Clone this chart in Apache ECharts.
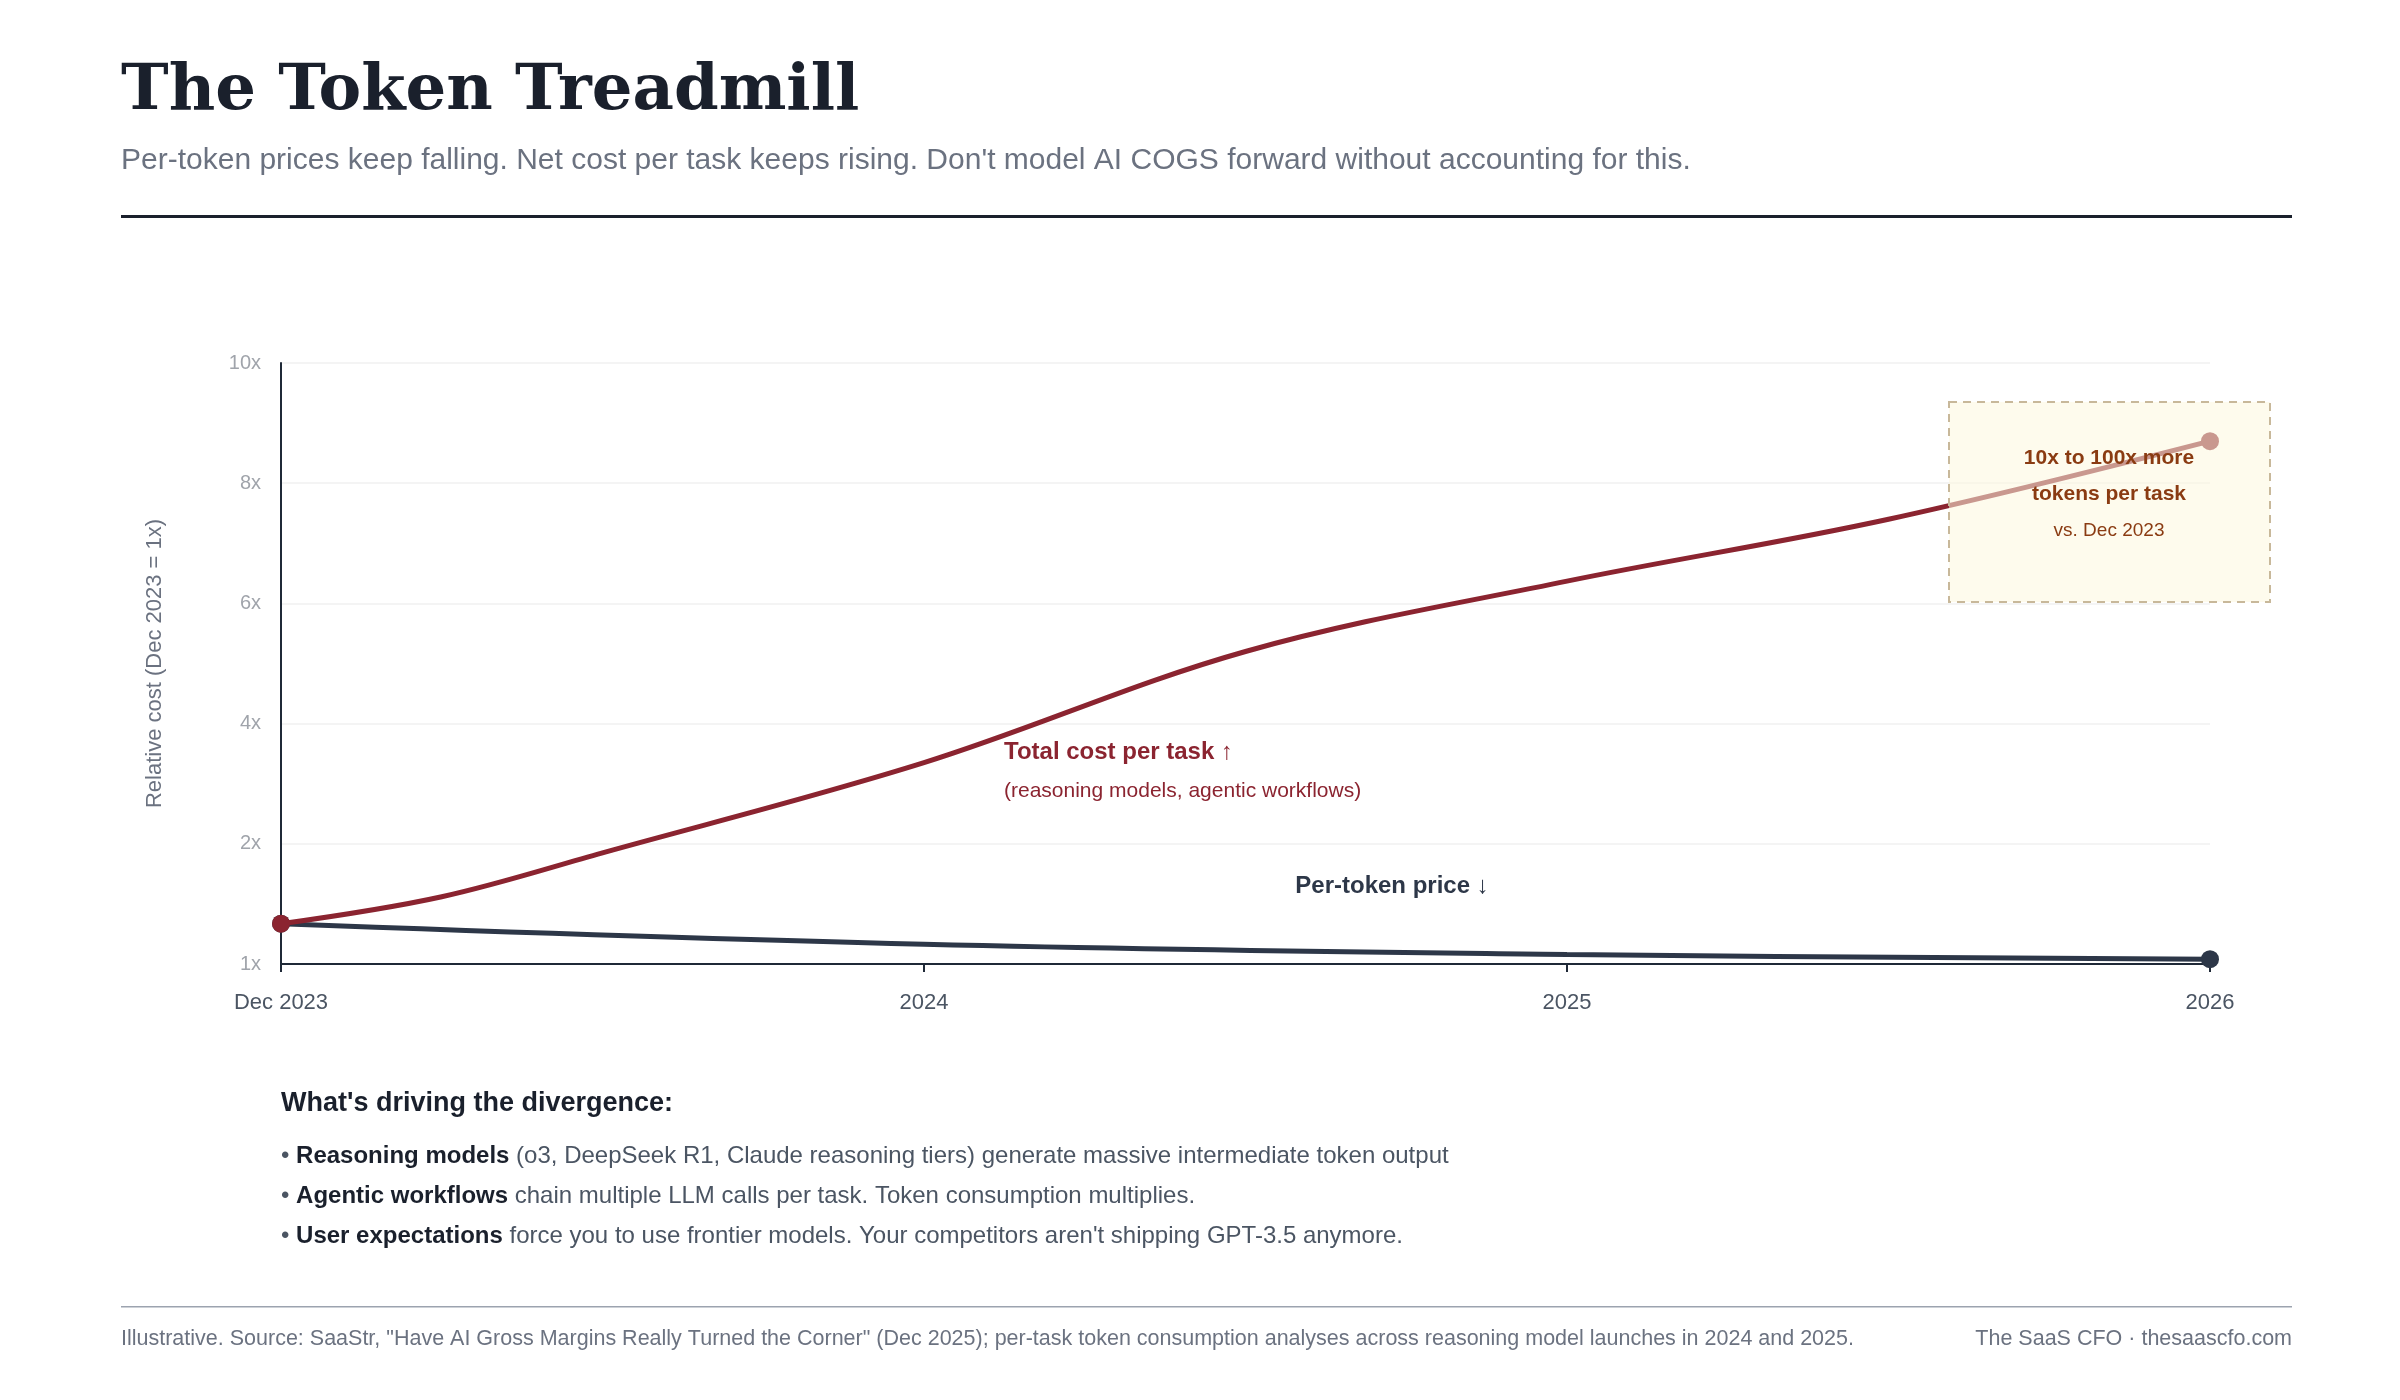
<!DOCTYPE html>
<html>
<head>
<meta charset="utf-8">
<script src="https://cdn.jsdelivr.net/npm/echarts@6/dist/echarts.min.js"></script>
<style>
  html, body { margin: 0; padding: 0; background: #fff; }
  #chart { width: 2400px; height: 1400px; }
</style>
</head>
<body>
<div id="chart"></div>
<script>
// x positions: 0 = Dec 2023, 1 = 2024, 2 = 2025, 3 = 2026
var xTickLabels = ['Dec 2023', '2024', '2025', '2026'];
var yTickLabels = {0: '1x', 2: '2x', 4: '4x', 6: '6x', 8: '8x', 10: '10x'};

var totalCostX = [0, 0.25, 0.5, 1.0, 1.5, 2.0, 2.5, 3.0];
var totalCostY = [0.67, 1.12, 1.85, 3.35, 5.2, 6.37, 7.4, 8.7];

var tokenPriceX = [0, 1.0, 2.0, 3.0];
var tokenPriceY = [0.67, 0.33, 0.16, 0.08];

var RED = '#8b2430';
var DARK = '#2d3748';
var FONT = '"Liberation Sans", Arial, sans-serif';

function pairs(xs, ys) {
  var out = [];
  for (var i = 0; i < xs.length; i++) out.push([xs[i], ys[i]]);
  return out;
}

function endSymbols(n) {
  return function (v, p) { return (p.dataIndex === 0 || p.dataIndex === n - 1) ? 18 : 0; };
}

var chart = echarts.init(document.getElementById('chart'));

var option = {
  backgroundColor: '#fff',
  textStyle: { fontFamily: FONT },
  grid: { left: 281, right: 190, top: 363, bottom: 436 },
  xAxis: {
    type: 'value', min: 0, max: 3, interval: 1,
    axisLine: { show: true, onZero: false, lineStyle: { color: '#1f2937', width: 2 } },
    axisTick: { show: true, length: 8, lineStyle: { color: '#1f2937', width: 2 } },
    splitLine: { show: false },
    axisLabel: {
      color: '#4b5563', fontSize: 22, margin: 28, fontFamily: FONT,
      formatter: function (v) { return xTickLabels[v]; }
    }
  },
  yAxis: {
    type: 'value', min: 0, max: 10, interval: 2,
    name: 'Relative cost (Dec 2023 = 1x)',
    nameLocation: 'middle', nameGap: 115, nameRotate: 90,
    nameTextStyle: { color: '#6b7280', fontSize: 22, fontFamily: FONT },
    axisLine: { show: true, lineStyle: { color: '#1f2937', width: 2 } },
    axisTick: { show: false },
    splitLine: { lineStyle: { color: '#f1f1f1', width: 1.5 } },
    axisLabel: {
      color: '#a0a4ab', fontSize: 20, margin: 20, fontFamily: FONT,
      formatter: function (v) { return yTickLabels[v]; }
    }
  },
  series: [
    {
      name: 'Per-token price', type: 'line', smooth: 0.4,
      data: pairs(tokenPriceX, tokenPriceY),
      lineStyle: { color: DARK, width: 5 },
      itemStyle: { color: DARK },
      symbol: 'circle', symbolSize: endSymbols(tokenPriceX.length),
      z: 2
    },
    {
      name: 'Total cost per task', type: 'line', smooth: 0.35,
      data: pairs(totalCostX, totalCostY),
      lineStyle: { color: RED, width: 5 },
      itemStyle: { color: RED },
      symbol: 'circle', symbolSize: endSymbols(totalCostX.length),
      z: 3
    }
  ],
  graphic: [
    { type: 'text', left: 121, top: 60, style: { text: 'The Token Treadmill', fill: '#1a202c', font: 'bold 64px "DejaVu Serif", serif' } },
    { type: 'text', left: 121, top: 146, style: { text: "Per-token prices keep falling. Net cost per task keeps rising. Don't model AI COGS forward without accounting for this.", fill: '#6b7280', font: '30px ' + FONT } },
    { type: 'rect', shape: { x: 121, y: 215, width: 2171, height: 3 }, style: { fill: '#1a202c' } },

    { type: 'rect', z: 100, shape: { x: 1949, y: 402, width: 321, height: 200 },
      style: { fill: 'rgba(254,247,222,0.55)', stroke: '#c8b89a', lineWidth: 2, lineDash: [8, 6] } },
    { type: 'text', z: 101, x: 2109, y: 458, style: { text: '10x to 100x more', fill: '#8a3b12', font: 'bold 21px ' + FONT, align: 'center', verticalAlign: 'middle' } },
    { type: 'text', z: 101, x: 2109, y: 494, style: { text: 'tokens per task', fill: '#8a3b12', font: 'bold 21px ' + FONT, align: 'center', verticalAlign: 'middle' } },
    { type: 'text', z: 101, x: 2109, y: 531, style: { text: 'vs. Dec 2023', fill: '#8a3b12', font: '19px ' + FONT, align: 'center', verticalAlign: 'middle' } },

    { type: 'text', z: 50, left: 1004, top: 740, style: { text: 'Total cost per task \u2191', fill: RED, font: 'bold 24px ' + FONT } },
    { type: 'text', z: 50, left: 1004, top: 781, style: { text: '(reasoning models, agentic workflows)', fill: RED, font: '21px ' + FONT } },
    { type: 'text', z: 50, x: 1392, y: 886, style: { text: 'Per-token price \u2193', fill: DARK, font: 'bold 24px ' + FONT, align: 'center', verticalAlign: 'middle' } },

    { type: 'text', left: 281, top: 1090, style: { text: "What's driving the divergence:", fill: '#1a202c', font: 'bold 27px ' + FONT } },
    { type: 'text', left: 281, top: 1144, style: {
      text: '\u2022 {b|Reasoning models} (o3, DeepSeek R1, Claude reasoning tiers) generate massive intermediate token output',
      fill: '#4b5563', font: '24px ' + FONT, rich: { b: { fontWeight: 'bold', fill: '#1a202c', fontSize: 24, fontFamily: FONT } } } },
    { type: 'text', left: 281, top: 1184, style: {
      text: '\u2022 {b|Agentic workflows} chain multiple LLM calls per task. Token consumption multiplies.',
      fill: '#4b5563', font: '24px ' + FONT, rich: { b: { fontWeight: 'bold', fill: '#1a202c', fontSize: 24, fontFamily: FONT } } } },
    { type: 'text', left: 281, top: 1224, style: {
      text: "\u2022 {b|User expectations} force you to use frontier models. Your competitors aren't shipping GPT-3.5 anymore.",
      fill: '#4b5563', font: '24px ' + FONT, rich: { b: { fontWeight: 'bold', fill: '#1a202c', fontSize: 24, fontFamily: FONT } } } },

    { type: 'rect', shape: { x: 121, y: 1306, width: 2171, height: 1.5 }, style: { fill: '#9ca3af' } },
    { type: 'text', left: 121, top: 1328, style: { text: 'Illustrative. Source: SaaStr, "Have AI Gross Margins Really Turned the Corner" (Dec 2025); per-task token consumption analyses across reasoning model launches in 2024 and 2025.', fill: '#6b7280', font: '21.5px ' + FONT } },
    { type: 'text', right: 108, top: 1328, style: { text: 'The SaaS CFO \u00b7 thesaascfo.com', fill: '#6b7280', font: '21.5px ' + FONT } }
  ]
};

chart.setOption(option);
</script>
</body>
</html>
